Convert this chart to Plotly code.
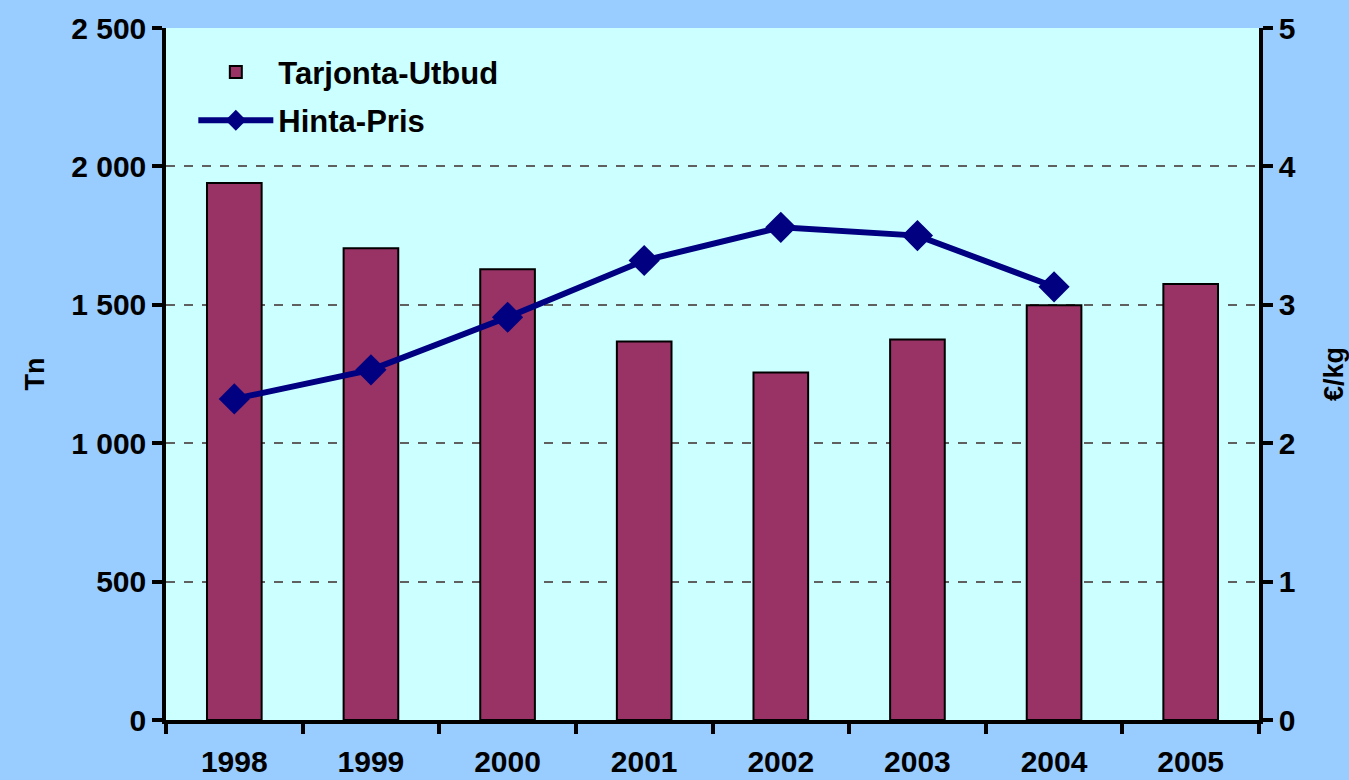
import numpy as np
import plotly.graph_objects as go

years = ["1998", "1999", "2000", "2001", "2002", "2003", "2004", "2005"]
supply_tn = [1940, 1704, 1628, 1367, 1255, 1375, 1498, 1575]
price_years = ["1998", "1999", "2000", "2001", "2002", "2003", "2004"]
price_eur_kg = [2.32, 2.53, 2.91, 3.32, 3.56, 3.50, 3.13]

FONT = "Liberation Sans, Arial, sans-serif"
bounds = list(np.arange(len(years) + 1) - 0.5)

fig = go.Figure()
fig.add_trace(go.Bar(
    x=years, y=supply_tn, name="Tarjonta-Utbud", legendgroup="a",
    marker=dict(color="#993366", line=dict(color="black", width=2)),
    width=0.4, xaxis="x", yaxis="y",
))
fig.add_trace(go.Scatter(
    x=price_years, y=price_eur_kg, name="Hinta-Pris", legendgroup="b",
    mode="lines+markers",
    line=dict(color="#000080", width=6),
    marker=dict(symbol="diamond", size=24, color="#000080"),
    xaxis="x", yaxis="y2",
))

tickfont = dict(family=FONT, size=30, color="black", weight="bold")

fig.update_layout(
    width=1349, height=780,
    paper_bgcolor="#99CCFF", plot_bgcolor="#CCFFFF",
    margin=dict(l=166, r=90, t=28, b=60, autoexpand=False),
    separators=", ",
    font=dict(family=FONT, color="black"),
    showlegend=True,
    legend=dict(x=0.025, y=0.975, xanchor="left", yanchor="top",
                traceorder="grouped", tracegroupgap=5,
                bgcolor="rgba(0,0,0,0)", font=dict(family=FONT, size=31, weight="bold"),
                itemwidth=75),
    xaxis=dict(type="category", range=[-0.5, 7.5], showline=True, linecolor="black",
               linewidth=3.5, ticks="outside", ticklen=10, tickwidth=3.5, tickcolor="black",
               tickson="boundaries", tickfont=tickfont, ticklabelstandoff=12,
               showgrid=False, zeroline=False, automargin=False),
    xaxis3=dict(overlaying="x", anchor="y", range=[-0.5, 7.5], tickmode="array",
                tickvals=bounds, ticks="inside", ticklen=10, tickwidth=3.5,
                tickcolor="black", showticklabels=False, showgrid=False,
                zeroline=False, showline=False, automargin=False),
    xaxis4=dict(overlaying="x", anchor="y", side="top", range=[-0.5, 7.5],
                showline=True, linecolor="#808080", linewidth=2, ticks="",
                showticklabels=False, showgrid=False, zeroline=False, automargin=False),
    yaxis=dict(range=[0, 2500], dtick=500, tickformat=",d", showline=True,
               linecolor="black", linewidth=3.5, ticks="outside", ticklen=10,
               tickwidth=3.5, tickcolor="black", tickfont=tickfont,
               showgrid=True, gridcolor="#606060", griddash="dash", gridwidth=1.5,
               zeroline=False, automargin=False,
               title=dict(text="Tn", font=dict(family=FONT, size=27, weight="bold"),
                          standoff=20)),
    yaxis3=dict(overlaying="y", anchor="x", range=[0, 2500], dtick=500,
                ticks="inside", ticklen=10, tickwidth=3.5, tickcolor="black",
                showticklabels=False, showgrid=False, zeroline=False, showline=False,
                automargin=False),
    yaxis2=dict(overlaying="y", side="right", anchor="x", range=[0, 5], dtick=1,
                showline=True, linecolor="black", linewidth=3.5, ticks="outside",
                ticklen=10, tickwidth=3.5, tickcolor="black", tickfont=tickfont,
                showgrid=False, zeroline=False, automargin=False,
                title=dict(text="€/kg", font=dict(family=FONT, size=27, weight="bold"),
                           standoff=30)),
    yaxis4=dict(overlaying="y", side="right", anchor="x", range=[0, 5], dtick=1,
                ticks="inside", ticklen=10, tickwidth=3.5, tickcolor="black",
                showticklabels=False, showgrid=False, zeroline=False, showline=False,
                automargin=False),
)

fig.write_html("out.html", config={"displayModeBar": False},
               post_script="document.body.style.margin='0px';")
